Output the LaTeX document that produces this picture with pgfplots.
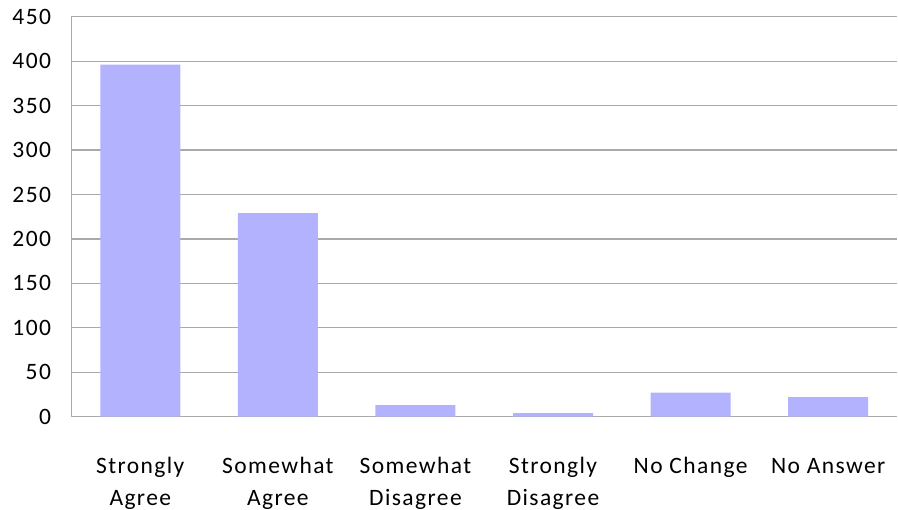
\documentclass[border=0pt]{standalone}
\usepackage{pgfplots}
\pgfplotsset{compat=1.18}
\usepackage{fontspec}
\setmainfont{Carlito}[LetterSpace=6]
\definecolor{barc}{RGB}{178,178,255}
\definecolor{gridc}{RGB}{170,170,170}
\begin{document}
\begin{tikzpicture}
\useasboundingbox (-71.5bp,-93.3bp) rectangle (826.5bp,416.7bp);
\begin{axis}[
  at={(0,0)}, anchor=south west,
  scale only axis,
  width=825.5bp, height=400bp,
  xmin=-0.5, xmax=5.5,
  ymin=0, ymax=450,
  ytick={0,50,...,450},
  xtick=data,
  xticklabels={{Strongly\\Agree},{Somewhat\\Agree},{Somewhat\\Disagree},{Strongly\\Disagree},{No Change\\\mbox{}},{No Answer\\\mbox{}}},
  xticklabel style={align=center, anchor=base, font=\fontsize{23.5bp}{32bp}\selectfont, yshift=-89bp},
  yticklabel style={font=\fontsize{23.5bp}{28bp}\selectfont, xshift=-17bp},
  /pgf/number format/assume math mode=true,
  major tick length=0pt,
  ymajorgrids,
  grid style={gridc, line width=1.2bp},
  axis x line*=bottom,
  axis y line*=left,
  axis line style={gridc, line width=1.2bp, -},
  ybar, bar width=80bp,
]
\addplot[fill=barc, draw=none] coordinates {(0,396) (1,229) (2,13) (3,4) (4,27) (5,22)};
\end{axis}
\end{tikzpicture}
\end{document}
